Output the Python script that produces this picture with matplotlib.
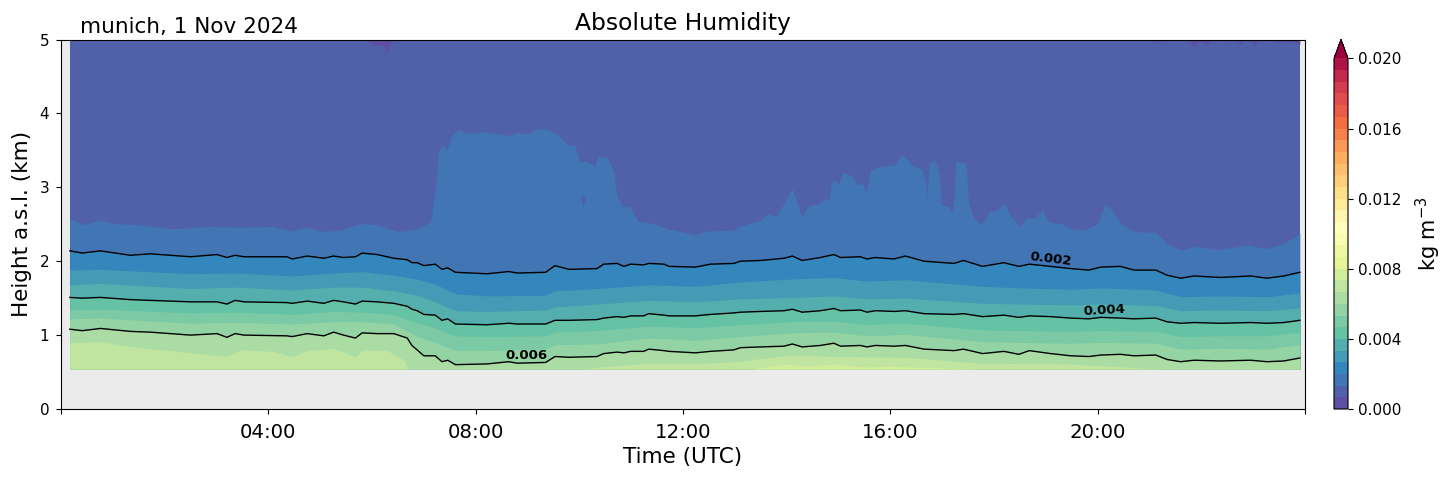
import numpy as np
import matplotlib
matplotlib.use("Agg")
import matplotlib.pyplot as plt
from matplotlib import cm, colors

#### data: time in hours UTC, height in km ####
site_title = "munich, 1 Nov 2024"
hour_ticks = [0, 4, 8, 12, 16, 20, 24]
hour_labels = ["", "04:00", "08:00", "12:00", "16:00", "20:00", ""]
height_ticks = [0, 1, 2, 3, 4, 5]
cbar_ticks = [0.000, 0.004, 0.008, 0.012, 0.016, 0.020]
base_height = 0.54

# edge of the 0.00133 band (cloud like shape)
t_cloud = [0.17, 0.44, 0.76, 1.02, 1.53, 2.17, 2.82, 3.46, 4.10, 4.46, 4.75, 5.07, 5.39, 5.78, 6.10, 6.52, 6.87,
           7.13, 7.24, 7.27, 7.35, 7.45, 7.54, 7.66, 7.85, 8.19, 8.61, 8.80, 9.03, 9.18, 9.41, 9.60, 9.79, 9.91,
           10.02, 10.13, 10.29, 10.36, 10.55, 10.67, 10.72, 10.82, 10.97, 11.13, 11.35, 11.51, 11.74, 11.96, 12.23,
           12.50, 12.96, 13.11, 13.49, 13.64, 13.79, 13.99, 14.10, 14.18, 14.29, 14.44, 14.56, 14.75, 14.82, 14.86,
           14.94, 15.00, 15.08, 15.28, 15.36, 15.47, 15.53, 15.62, 15.78, 16.08, 16.23, 16.43, 16.62, 16.69, 16.70,
           16.75, 16.86, 16.94, 16.98, 17.11, 17.19, 17.24, 17.26, 17.46, 17.51, 17.61, 17.76, 17.91, 18.07, 18.18,
           18.33, 18.51, 18.64, 18.77, 18.93, 19.06, 19.29, 19.48, 19.74, 20.00, 20.14, 20.25, 20.44, 20.70, 21.12,
           21.34, 21.60, 21.86, 22.37, 22.89, 23.27, 23.59, 23.90]
h_cloud = [2.58, 2.49, 2.56, 2.51, 2.49, 2.44, 2.47, 2.46, 2.47, 2.41, 2.46, 2.40, 2.42, 2.51, 2.49, 2.40, 2.44,
           2.53, 3.06, 3.46, 3.57, 3.51, 3.71, 3.78, 3.73, 3.75, 3.70, 3.74, 3.72, 3.80, 3.78, 3.70, 3.57, 3.57,
           3.33, 3.36, 3.28, 3.42, 3.40, 3.19, 2.90, 2.74, 2.74, 2.54, 2.52, 2.49, 2.43, 2.40, 2.36,
           2.41, 2.42, 2.48, 2.55, 2.65, 2.60, 2.83, 2.99, 2.83, 2.60, 2.76, 2.76, 2.85, 2.81, 3.06,
           3.10, 3.03, 3.20, 3.15, 3.03, 3.05, 2.92, 3.24, 3.28, 3.30, 3.44, 3.30, 3.24, 3.03, 2.81,
           3.33, 3.37, 3.19, 2.76, 2.74, 2.67, 2.88, 3.35, 3.33, 2.78, 2.58, 2.49, 2.67, 2.69, 2.79,
           2.60, 2.47, 2.60, 2.58, 2.69, 2.53, 2.51, 2.44, 2.42, 2.51, 2.77, 2.71, 2.51, 2.40, 2.39,
           2.24, 2.15, 2.20, 2.16, 2.22, 2.17, 2.24, 2.38]

# 0.002, 0.004 and 0.006 contours
t_lines = [0.17, 0.41, 0.76, 1.34, 1.72, 2.50, 3.01, 3.20, 3.36, 3.53, 4.36, 4.46, 4.75, 5.07, 5.26, 5.45, 5.68, 5.81,
           6.10, 6.42, 6.68, 6.77, 6.87, 7.00, 7.22, 7.35, 7.46, 7.61, 8.22, 8.64, 8.80, 9.35, 9.53, 9.80, 10.34, 10.47,
           10.73, 10.86, 10.99, 11.24, 11.34, 11.63, 11.73, 12.24, 12.53, 12.98, 13.11, 13.50, 13.95, 14.11, 14.30,
           14.65, 14.91, 15.04, 15.42, 15.55, 15.71, 16.07, 16.29, 16.65, 17.23, 17.41, 17.78, 18.19, 18.48, 18.68,
           19.09, 19.48, 19.83, 20.06, 20.44, 20.70, 21.12, 21.34, 21.60, 21.86, 22.37, 22.95, 23.27, 23.59, 23.90]
h_002 = [2.14, 2.11, 2.14, 2.08, 2.10, 2.06, 2.09, 2.05, 2.08, 2.06, 2.06, 2.03, 2.07, 2.04, 2.07, 2.05, 2.06, 2.11,
         2.09, 2.04, 2.02, 1.98, 1.98, 1.94, 1.96, 1.89, 1.91, 1.85, 1.83, 1.86, 1.84, 1.85, 1.94, 1.89, 1.90, 1.96,
         1.97, 1.93, 1.96, 1.95, 1.97, 1.96, 1.93, 1.92, 1.96, 1.97, 2.00, 2.01, 2.04, 2.07, 2.01,
         2.05, 2.09, 2.05, 2.06, 2.03, 2.05, 2.03, 2.07, 2.00, 1.97, 2.01, 1.93, 1.98, 1.93, 1.96,
         1.93, 1.90, 1.88, 1.92, 1.93, 1.88, 1.88, 1.81, 1.77, 1.80, 1.78, 1.80, 1.77, 1.80, 1.85]
h_004 = [1.51, 1.50, 1.51, 1.48, 1.47, 1.45, 1.45, 1.42, 1.47, 1.45, 1.44, 1.43, 1.46, 1.43, 1.47, 1.45, 1.42, 1.46,
         1.45, 1.43, 1.39, 1.35, 1.33, 1.28, 1.27, 1.20, 1.22, 1.15, 1.14, 1.16, 1.15, 1.15, 1.20, 1.20, 1.21, 1.23,
         1.25, 1.24, 1.26, 1.26, 1.29, 1.27, 1.26, 1.26, 1.28, 1.30, 1.31, 1.32, 1.33, 1.35, 1.31,
         1.33, 1.36, 1.33, 1.34, 1.31, 1.33, 1.32, 1.33, 1.29, 1.28, 1.29, 1.25, 1.27, 1.24, 1.26,
         1.25, 1.23, 1.22, 1.24, 1.23, 1.22, 1.23, 1.18, 1.16, 1.17, 1.16, 1.17, 1.16, 1.17, 1.20]
h_006 = [1.08, 1.06, 1.09, 1.05, 1.04, 1.00, 1.02, 0.97, 1.02, 1.00, 0.99, 0.98, 1.02, 0.99, 1.04, 1.00, 0.96, 1.03,
         1.02, 1.02, 0.96, 0.86, 0.80, 0.72, 0.72, 0.64, 0.66, 0.60, 0.61, 0.64, 0.62, 0.63, 0.71, 0.70, 0.71, 0.75,
         0.77, 0.76, 0.78, 0.78, 0.81, 0.79, 0.78, 0.76, 0.78, 0.80, 0.83, 0.84, 0.85, 0.88, 0.84,
         0.86, 0.89, 0.85, 0.86, 0.84, 0.86, 0.85, 0.86, 0.81, 0.79, 0.81, 0.75, 0.78, 0.74, 0.79,
         0.75, 0.72, 0.71, 0.73, 0.74, 0.72, 0.73, 0.67, 0.64, 0.66, 0.65, 0.66, 0.64, 0.65, 0.69]

# band edges without a contour line
t_bands = [0.17, 0.76, 2.50, 3.36, 4.46, 5.26, 5.81, 6.42, 6.87, 7.22, 7.61, 8.22, 9.35, 9.53, 10.34, 11.34, 12.24,
           13.11, 14.11, 14.91, 15.55, 16.29, 17.78, 18.48, 19.48, 20.06, 21.12, 21.60, 22.37, 23.27, 23.90]
h_00267 = [1.88, 1.89, 1.83, 1.84, 1.80, 1.84, 1.86, 1.81, 1.76, 1.69, 1.56, 1.53, 1.54, 1.60, 1.63, 1.68, 1.66,
           1.72, 1.76, 1.78, 1.73, 1.75, 1.66, 1.64, 1.62, 1.64, 1.61, 1.52, 1.53, 1.52, 1.57]
h_00333 = [1.68, 1.70, 1.63, 1.65, 1.61, 1.65, 1.65, 1.60, 1.54, 1.45, 1.33, 1.32, 1.34, 1.38, 1.42, 1.47, 1.45,
           1.49, 1.51, 1.53, 1.49, 1.50, 1.43, 1.42, 1.41, 1.42, 1.40, 1.33, 1.34, 1.33, 1.37]
h_00467 = [1.34, 1.35, 1.30, 1.31, 1.28, 1.32, 1.31, 1.28, 1.16, 1.10, 0.99, 0.98, 0.99, 1.04, 1.06, 1.12, 1.10,
           1.14, 1.18, 1.19, 1.14, 1.16, 1.07, 1.06, 1.05, 1.06, 1.05, 0.98, 0.99, 0.99, 1.04]
h_00533 = [1.22, 1.23, 1.16, 1.17, 1.15, 1.18, 1.18, 1.15, 0.98, 0.90, 0.79, 0.79, 0.81, 0.87, 0.88, 0.96, 0.93,
           0.98, 1.03, 1.04, 0.99, 1.01, 0.91, 0.90, 0.89, 0.90, 0.89, 0.81, 0.82, 0.81, 0.87]

t_00667 = [0.17, 0.76, 1.53, 2.82, 3.20, 3.46, 4.10, 4.46, 4.75, 5.26, 5.68, 5.81, 6.30, 6.62, 6.70, 10.00, 10.41,
           11.37, 12.34, 12.98, 14.07, 14.91, 16.29, 17.74, 19.40, 21.28, 23.90]
h_00667 = [0.90, 0.91, 0.83, 0.74, 0.71, 0.80, 0.78, 0.71, 0.79, 0.82, 0.71, 0.80, 0.79, 0.66, 0.54, 0.54, 0.57,
           0.62, 0.62, 0.64, 0.73, 0.71, 0.70, 0.62, 0.61, 0.54, 0.54]
t_00733 = [13.35, 13.95, 14.40, 14.91, 15.50, 16.00, 16.80, 17.70]
h_00733 = [0.54, 0.61, 0.58, 0.61, 0.57, 0.58, 0.56, 0.54]

# small dry patches hanging from the top of the plot
t_dry = [5.90, 6.00, 6.20, 6.29, 6.41]
h_dry = [5.00, 4.93, 4.93, 4.82, 5.00]
t_dry2 = [21.11, 21.18, 21.25, 21.75, 21.85, 21.94, 22.02, 22.12, 22.21, 22.41, 22.46, 22.50, 22.69, 22.75, 22.81,
          22.95, 23.03, 23.14, 23.39, 23.50, 23.65, 23.80, 23.90]
h_dry2 = [5.00, 4.96, 5.00, 5.00, 4.90, 4.96, 4.97, 4.93, 5.00, 5.00, 4.97, 5.00, 5.00, 4.92, 5.00,
          5.00, 4.91, 5.00, 5.00, 4.96, 4.97, 4.96, 4.93]
# small hole in the cloud
t_hole = [10.03, 10.07, 10.12]
h_hole_low = [2.85, 2.73, 2.85]
h_hole_top = [2.85, 2.92, 2.85]
#####################################

levels = np.linspace(0, 0.02, 31)
spectral = plt.get_cmap("Spectral_r")
band_colors = spectral(levels[:-1] / 0.02)

fig = plt.figure(figsize=(14.54, 4.78), dpi=100)
ax = fig.add_axes([61 / 1454, 69 / 478, 1244 / 1454, 369.5 / 478])
ax.set_facecolor("#ebebeb")

# paint from the top band downwards, each one covers what is under it
ax.fill_between([t_cloud[0], t_cloud[-1]], 5, base_height, color=band_colors[1], lw=0)
ax.fill_between(t_dry, h_dry, 5, color=band_colors[0], lw=0)
ax.fill_between(t_dry2, h_dry2, 5, color=band_colors[0], lw=0)
bands = [(t_cloud, h_cloud), (t_lines, h_002), (t_bands, h_00267), (t_bands, h_00333), (t_lines, h_004),
         (t_bands, h_00467), (t_bands, h_00533), (t_lines, h_006), (t_00667, h_00667), (t_00733, h_00733)]
for i, (t, h) in enumerate(bands):
    ax.fill_between(t, h, base_height, color=band_colors[i + 2], lw=0)
ax.fill_between(t_hole, h_hole_low, h_hole_top, color=band_colors[1], lw=0)

for h in [h_002, h_004, h_006]:
    ax.plot(t_lines, h, color="black", lw=1)

ax.text(19.09, 2.03, "0.002", fontsize=9.5, fontweight="bold", rotation=-7, ha="center", va="center")
ax.text(20.13, 1.33, "0.004", fontsize=9.5, fontweight="bold", rotation=3, ha="center", va="center")
ax.text(8.98, 0.73, "0.006", fontsize=9.5, fontweight="bold", ha="center", va="center")

ax.set_xlim(0, 24)
ax.set_ylim(0, 5)
ax.set_xticks(hour_ticks)
ax.set_xticklabels(hour_labels, fontsize=14.2)
ax.set_yticks(height_ticks)
ax.tick_params(axis="y", labelsize=11, pad=5)
ax.tick_params(axis="x", pad=6.5)
ax.set_xlabel("Time (UTC)", fontsize=15.5, labelpad=4)
ax.set_ylabel("Height a.s.l. (km)", fontsize=15.5, labelpad=5)
ax.set_title("Absolute Humidity", fontsize=16.8, pad=6.5)
ax.text(0.015, 1.008, site_title, transform=ax.transAxes, fontsize=15.5, va="bottom")

# colorbar
band_cmap = colors.ListedColormap(band_colors)
band_cmap.set_over(spectral(1.0))
norm = colors.BoundaryNorm(levels, band_cmap.N)
cax = fig.add_axes([1334 / 1454, 69 / 478, 14 / 1454, 369.5 / 478])
cbar = fig.colorbar(cm.ScalarMappable(norm=norm, cmap=band_cmap), cax=cax, extend="max", extendfrac=0.054,
                    ticks=cbar_ticks, format="%.3f", spacing="proportional")
cbar.ax.minorticks_off()
cbar.ax.tick_params(labelsize=11)
cbar.set_label("kg m$^{-3}$", fontsize=15, labelpad=9)

plt.savefig("out.png", dpi=100)
